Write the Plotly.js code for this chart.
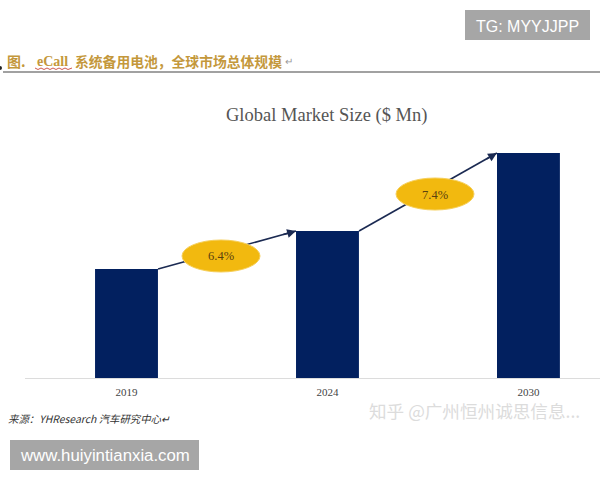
<!DOCTYPE html>
<html><head><meta charset="utf-8">
<script src="https://cdn.plot.ly/plotly-3.0.1.min.js"></script>
<style>html,body{margin:0;padding:0;background:#fff}#c{width:600px;height:480px}</style>
</head><body><div id="c"></div>
<script>
const years = ['2019','2024','2030'];
const yearPositions = [0,1,2];
const marketSize = [109,147,225];
const growthLabels = ['6.4%','7.4%'];
const arrow1X = [0.157,0.843];
const arrow1Y = [109,147];
const arrow2X = [1.157,1.843];
const arrow2Y = [147,225];

const W=600,H=480;
const px=x=>x/W, py=y=>1-y/H;
const SERIF='"Liberation Serif",serif', SANS='"Liberation Sans",Arial,sans-serif', CJK='"Noto Sans CJK SC",sans-serif';
const NAVY='#1b2a52';

function label(x,y,text,size,color,family,anchor,extra){
  return Object.assign({xref:'paper',yref:'paper',x:px(x),y:py(y),text:text,showarrow:false,
    xanchor:anchor||'left',yanchor:'middle',font:{size:size,color:color,family:family}},extra||{});
}
function box(x0,y0,x1,y1,color){
  return {type:'rect',xref:'paper',yref:'paper',x0:px(x0),x1:px(x1),y0:py(y0),y1:py(y1),fillcolor:color,line:{width:0},layer:'above'};
}
function ell(cx,cy,rx,ry){
  return {type:'circle',xref:'paper',yref:'paper',x0:px(cx-rx),x1:px(cx+rx),y0:py(cy-ry),y1:py(cy+ry),
    fillcolor:'#f2b90f',line:{width:1,color:'#f6cf5a'},layer:'above'};
}
function head(xs,ys,ax,ay){
  return {xref:'x',yref:'y',x:xs[1],y:ys[1],text:'',showarrow:true,axref:'pixel',ayref:'pixel',ax:ax,ay:ay,
    arrowhead:2,arrowsize:1.1,arrowwidth:1.6,arrowcolor:NAVY,standoff:0,startstandoff:0};
}
const arrowStyle={mode:'lines',type:'scatter',hoverinfo:'skip',showlegend:false,cliponaxis:false,
  line:{color:NAVY,width:1.6}};

const traces=[
 {type:'bar',x:yearPositions,y:marketSize,width:0.313,marker:{color:'#02205f',line:{width:0}},hoverinfo:'skip',showlegend:false},
 Object.assign({x:arrow1X,y:arrow1Y},arrowStyle),
 Object.assign({x:arrow2X,y:arrow2Y},arrowStyle)
];

const layout={
 width:W,height:H,margin:{l:0,r:0,t:0,b:0,pad:0},paper_bgcolor:'#fff',plot_bgcolor:'#fff',showlegend:false,
 xaxis:{domain:[px(25),1],range:[-0.505,2.356],tickmode:'array',tickvals:yearPositions,ticktext:years,
   showgrid:false,zeroline:false,showline:true,linecolor:'#dcdcdc',linewidth:1,ticks:'',ticklen:0,ticklabelstandoff:4,
   tickfont:{family:SERIF,size:11,color:'#444'},automargin:false,fixedrange:true},
 yaxis:{domain:[py(378),1],range:[0,378],visible:false,fixedrange:true},
 shapes:[
  ell(221,256,39,16),
  ell(435,194,39,16),
  {type:'line',xref:'paper',yref:'paper',x0:px(3),x1:1,y0:py(72),y1:py(72),line:{color:'#444',width:1.2}},
  {type:'circle',xref:'paper',yref:'paper',x0:px(-2),x1:px(2),y0:py(66),y1:py(70),fillcolor:'#222',line:{width:0}},
  {type:'path',xref:'paper',yref:'paper',layer:'above',line:{color:'#c8453a',width:0.9},
   path:'M '+px(35)+' '+py(68)+' L '+px(38)+' '+py(69.5)+' L '+px(41)+' '+py(68)+' L '+px(44)+' '+py(69.5)+' L '+px(47)+' '+py(68)+' L '+px(50)+' '+py(69.5)+' L '+px(53)+' '+py(68)+' L '+px(56)+' '+py(69.5)+' L '+px(59)+' '+py(68)+' L '+px(62)+' '+py(69.5)+' L '+px(65)+' '+py(68)+' L '+px(68)+' '+py(69.5)+' L '+px(72)+' '+py(68)},
  box(465,10,590,40,'#a6a6a6'),
  box(10,440,199,470,'#a6a6a6')
 ],
 annotations:[
  head(arrow1X,arrow1Y,-14,4),
  head(arrow2X,arrow2Y,-12,7),
  label(326,115,'Global Market Size ($ Mn)',18.5,'#555',SERIF,'center'),
  label(221,256,growthLabels[0],12.5,'#5a4210',SERIF,'center'),
  label(435,195,growthLabels[1],12.5,'#5a4210',SERIF,'center'),
  label(5,61,'<b>图.</b>',14,'#c4983c',CJK),
  label(35,61,'<b>eCall</b>',14,'#c4983c',SERIF),
  label(73,61,'<b>系统备用电池\uFF0C全球市场总体规模</b>',13.8,'#c4983c',CJK),
  label(283,62,'↵',10,'#999',SANS),
  label(6,418,'<i>来源\uFF1AYHResearch 汽车研究中心↵</i>',10.4,'#333',CJK),
  label(367,410,'知乎 @广州恒州诚思信息...',17.6,'#dcdcdc',CJK),
  label(527.5,26,'TG: MYYJJPP',16,'#fff',SANS,'center'),
  label(104.5,455,'www.huiyintianxia.com',16.8,'#fff',SANS,'center')
 ]
};
Plotly.newPlot('c',traces,layout,{displayModeBar:false,staticPlot:true});
</script></body></html>
